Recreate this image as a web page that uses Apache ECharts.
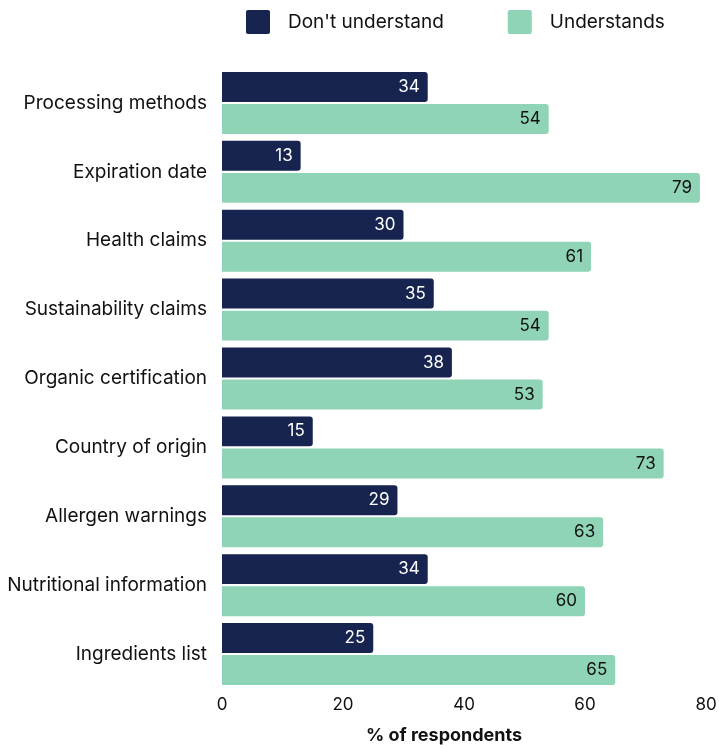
<!DOCTYPE html>
<html><head><meta charset="utf-8">
<script src="https://cdn.jsdelivr.net/npm/echarts@6/dist/echarts.min.js"></script>
<style>html,body{margin:0;padding:0;background:#fff}#c{width:719px;height:748px}</style>
</head><body><div id="c"></div>
<script>
const categories = ["Processing methods","Expiration date","Health claims","Sustainability claims","Organic certification","Country of origin","Allergen warnings","Nutritional information","Ingredients list"];
const dontUnderstand = [34,13,30,35,38,15,29,34,25];
const understands = [54,79,61,54,53,73,63,60,65];
const xTicks = [0,20,40,60,80];
const F = "Inter, 'Noto Sans', sans-serif";
const sq = 'path://M2,0 H22 A2,2 0 0 1 24,2 V22 A2,2 0 0 1 22,24 H2 A2,2 0 0 1 0,22 V2 A2,2 0 0 1 2,0 Z';
const chart = echarts.init(document.getElementById('c'));
chart.setOption({
  animation:false,
  legend:{top:5,left:241,itemWidth:24,itemHeight:24,itemGap:64,icon:sq,
    textStyle:{fontFamily:F,fontSize:19,color:'#111',padding:[0,0,0,13]},
    data:["Don't understand","Understands"]},
  grid:{left:222,right:13,top:68.5,bottom:59.5,containLabel:false,outerBoundsMode:'none'},
  xAxis:{type:'value',min:xTicks[0],max:xTicks[xTicks.length-1],interval:20,
    splitLine:{show:false},axisLine:{show:false},axisTick:{show:false},
    axisLabel:{fontFamily:F,fontSize:17,color:'#111',margin:8},
    name:'% of respondents',nameLocation:'middle',nameGap:38,
    nameTextStyle:{fontFamily:F,fontSize:18,fontWeight:'bold',color:'#111',padding:[0,40,0,0]}},
  yAxis:{type:'category',data:categories,inverse:true,
    axisLine:{show:false},axisTick:{show:false},
    axisLabel:{fontFamily:F,fontSize:19,color:'#111',margin:15,padding:[0,0,3,0]}},
  series:[
    {name:"Don't understand",type:'bar',data:dontUnderstand,barGap:'7%',barCategoryGap:'10%',
     itemStyle:{color:'#16244f',borderRadius:[0,3,3,0]},
     label:{show:true,position:'insideRight',color:'#fff',fontFamily:F,fontSize:17,distance:8}},
    {name:"Understands",type:'bar',data:understands,barGap:'7%',barCategoryGap:'10%',
     itemStyle:{color:'#8fd4b6',borderRadius:[0,3,3,0]},
     label:{show:true,position:'insideRight',color:'#111',fontFamily:F,fontSize:17,distance:8}}
  ]
});
</script></body></html>
